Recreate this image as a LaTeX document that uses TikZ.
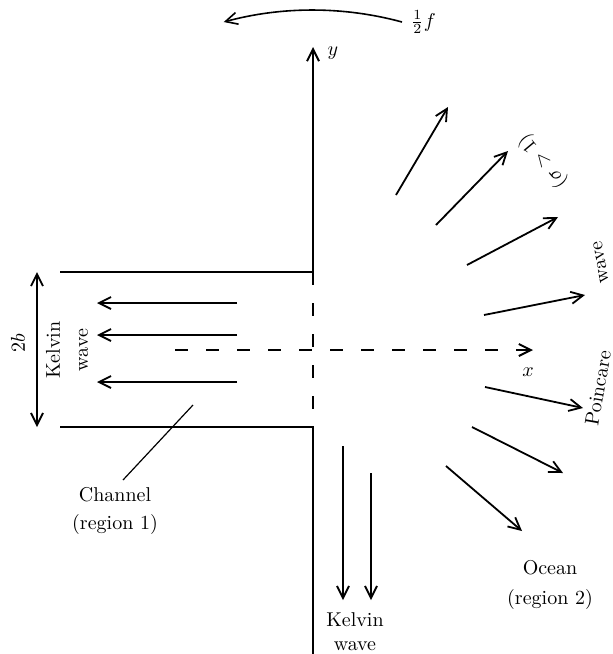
\documentclass[tikz,border=0pt]{standalone}
\usetikzlibrary{arrows.meta,positioning}
\begin{document}
\begin{tikzpicture}[x=0.5pt,y=-0.5pt,align=center,>={Straight Barb[length=6pt,width=6pt]}]
\tikzstyle{wall}=[line width=1pt]
\tikzstyle{mouth}=[line width=1pt,dash pattern=on 6.5pt off 9pt]
\tikzstyle{wave}=[line width=0.9pt,->]
\tikzstyle{leader}=[line width=0.6pt]

\useasboundingbox (0,0) rectangle (613,654);

\coordinate (ytip) at (313,47);
\coordinate (ctop) at (313,272);
\coordinate (cbot) at (313,427);
\coordinate (yend) at (313,654);
\coordinate (tl) at (60,272);
\coordinate (bl) at (60,427);
\coordinate (xstart) at (175,350);
\coordinate (xtip) at (533,350);

\draw[wall] (tl) -- (ctop);
\draw[wall,->] (ctop) -- (ytip);
\draw[mouth] (ctop) -- (cbot);
\draw[wall] (bl) -- (cbot) -- (yend);
\draw[mouth,->] (xstart) -- (xtip);

\node (ylbl) at (333,53) {$y$};
\node (xlbl) at (528,372) {$x$};

\coordinate (rotstart) at (402,22);
\draw[thick,->] (rotstart) arc[start angle=-74.8,end angle=-105.2,radius=340];
\node[right=1pt of rotstart] (half) {$\frac12 f$};

\foreach \y [count=\i] in {303,335,382} {
  \coordinate (k\i s) at (237,\y);
  \coordinate (k\i e) at (97,\y);
  \draw[wave] (k\i s) -- (k\i e);
}

\coordinate (bt) at (37,272);
\coordinate (bb) at (37,427);
\draw[wave,<->] (bt) -- (bb);
\node[rotate=90] (twob) at (18,343) {$2b$};
\node[rotate=90] (kch) at (67,350) {Kelvin\\[2pt]wave};

\coordinate (leadtop) at (193,405);
\coordinate (leadbot) at (123,480);
\draw[leader] (leadtop) -- (leadbot);
\node (chan) at (115,511) {Channel\\[2pt](region 1)};

\coordinate (d1s) at (343,446);
\coordinate (d1e) at (343,600);
\coordinate (d2s) at (371,473);
\coordinate (d2e) at (371,600);
\draw[wave] (d1s) -- (d1e);
\draw[wave] (d2s) -- (d2e);
\node (kbot) at (355,632) {Kelvin\\[0pt]wave};

\foreach \i/\sx/\sy/\ex/\ey in {1/396/195/448/107, 2/436/225/508/151, 3/467/265/558/217, 4/484/315/585/295, 5/485/387/583/408, 6/472/427/563/473, 7/446/466/522/531} {
  \coordinate (f\i s) at (\sx,\sy);
  \coordinate (f\i e) at (\ex,\ey);
  \draw[wave] (f\i s) -- (f\i e);
}

\node[rotate=80] (pc) at (598,388) {Poincare};
\node[rotate=100] (pw) at (601,262) {wave};
\node[rotate=130] (ps) at (543,161) {$(\sigma>1)$};

\node (ocean) at (550,585) {Ocean\\[3pt](region 2)};
\end{tikzpicture}
\end{document}
